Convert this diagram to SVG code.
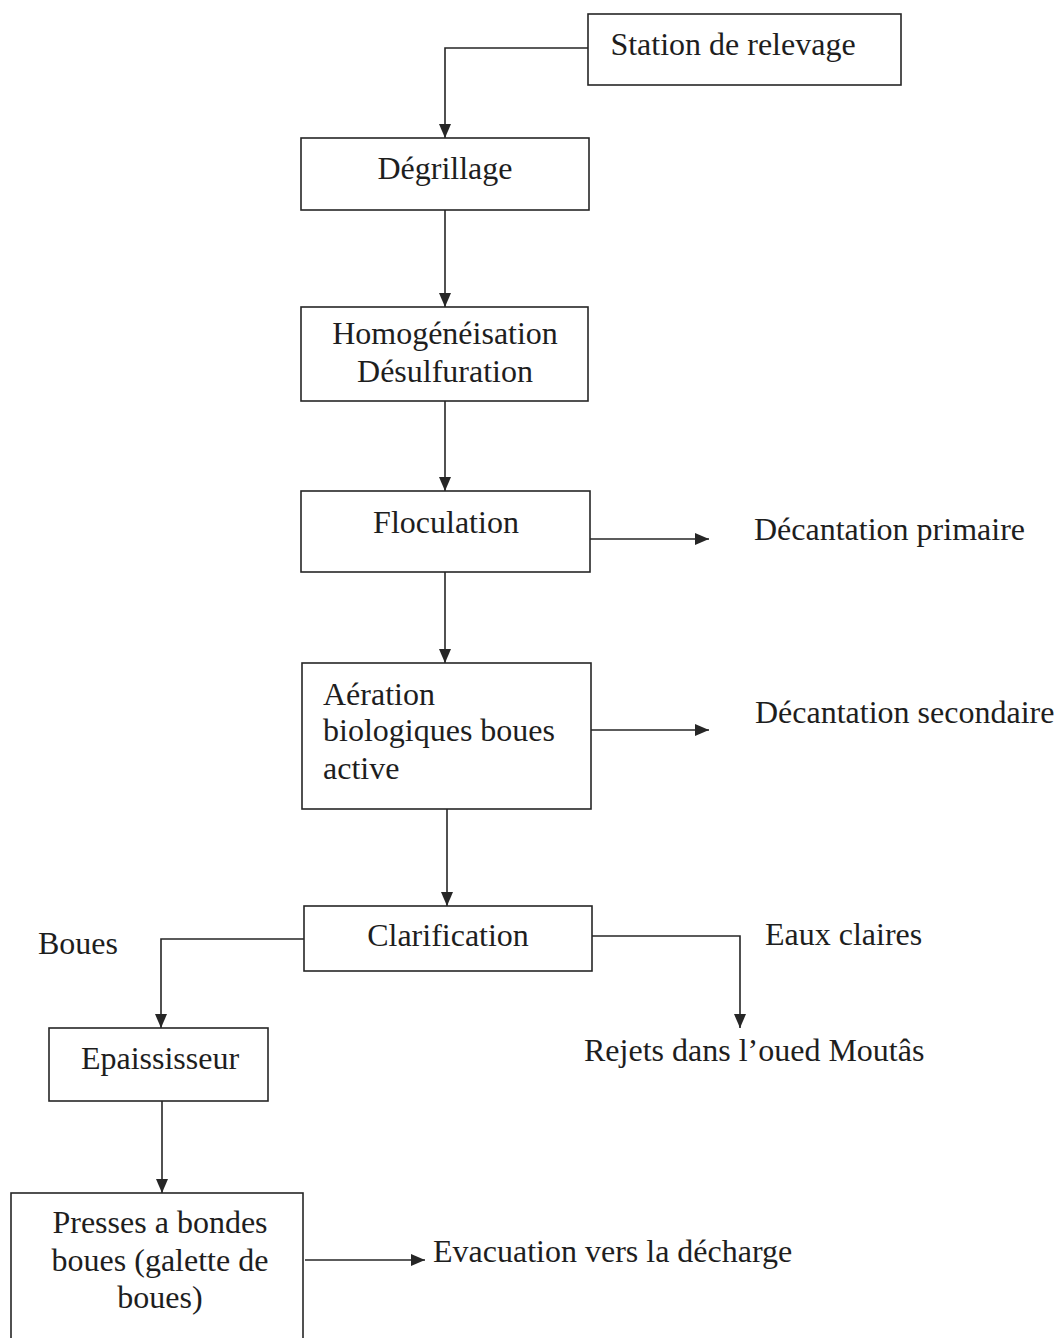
<svg xmlns="http://www.w3.org/2000/svg" width="1062" height="1338" viewBox="0 0 1062 1338">
  <style>
    .box { fill: #ffffff; stroke: #262626; stroke-width: 1.6; }
    .wire { fill: none; stroke: #262626; stroke-width: 1.6; }
    text { font-family: "Liberation Serif", "Times New Roman", serif; font-size: 32px; fill: #1e1e1e; }
    .c { text-anchor: middle; }
  </style>
  <defs>
    <marker id="arrow" markerWidth="14" markerHeight="12" refX="14" refY="6" orient="auto" markerUnits="userSpaceOnUse">
      <path d="M0,0 L14,6 L0,12 Z" fill="#262626"/>
    </marker>
  </defs>
  <rect width="1062" height="1338" fill="#ffffff"/>

  <g id="connectors">
    <path class="wire" d="M588,48 H445 V138" marker-end="url(#arrow)"/>
    <path class="wire" d="M445,210 V307" marker-end="url(#arrow)"/>
    <path class="wire" d="M445,401 V491" marker-end="url(#arrow)"/>
    <path class="wire" d="M590,539 H709" marker-end="url(#arrow)"/>
    <path class="wire" d="M445,572 V663" marker-end="url(#arrow)"/>
    <path class="wire" d="M591,730 H709" marker-end="url(#arrow)"/>
    <path class="wire" d="M447,809 V906" marker-end="url(#arrow)"/>
    <path class="wire" d="M304,939 H161 V1028" marker-end="url(#arrow)"/>
    <path class="wire" d="M592,936 H740 V1028" marker-end="url(#arrow)"/>
    <path class="wire" d="M162,1101 V1193" marker-end="url(#arrow)"/>
    <path class="wire" d="M305,1260 H425" marker-end="url(#arrow)"/>
  </g>

  <g id="station">
    <rect class="box" x="588" y="14" width="313" height="71"/>
    <text x="733" y="55" class="c">Station de relevage</text>
  </g>
  <g id="degrillage">
    <rect class="box" x="301" y="138" width="288" height="72"/>
    <text x="445" y="179" class="c">Dégrillage</text>
  </g>
  <g id="homogeneisation">
    <rect class="box" x="301" y="307" width="287" height="94"/>
    <text x="445" y="344" class="c">Homogénéisation</text>
    <text x="445" y="382" class="c">Désulfuration</text>
  </g>
  <g id="floculation">
    <rect class="box" x="301" y="491" width="289" height="81"/>
    <text x="446" y="533" class="c">Floculation</text>
  </g>
  <g id="decantation-primaire">
    <text x="754" y="540">Décantation primaire</text>
  </g>
  <g id="aeration">
    <rect class="box" x="302" y="663" width="289" height="146"/>
    <text x="323" y="705">Aération</text>
    <text x="323" y="741">biologiques boues</text>
    <text x="323" y="779">active</text>
  </g>
  <g id="decantation-secondaire">
    <text x="755" y="723">Décantation secondaire</text>
  </g>
  <g id="clarification">
    <rect class="box" x="304" y="906" width="288" height="65"/>
    <text x="448" y="946" class="c">Clarification</text>
  </g>
  <g id="boues">
    <text x="38" y="954">Boues</text>
  </g>
  <g id="eaux-claires">
    <text x="765" y="945">Eaux claires</text>
  </g>
  <g id="rejets">
    <text x="584" y="1061">Rejets dans l’oued Moutâs</text>
  </g>
  <g id="epaississeur">
    <rect class="box" x="49" y="1028" width="219" height="73"/>
    <text x="160" y="1069" class="c">Epaississeur</text>
  </g>
  <g id="presses">
    <rect class="box" x="11" y="1193" width="292" height="150"/>
    <text x="160" y="1233" class="c">Presses a bondes</text>
    <text x="160" y="1271" class="c">boues (galette de</text>
    <text x="160" y="1308" class="c">boues)</text>
  </g>
  <g id="evacuation">
    <text x="433" y="1262">Evacuation vers la décharge</text>
  </g>
</svg>
